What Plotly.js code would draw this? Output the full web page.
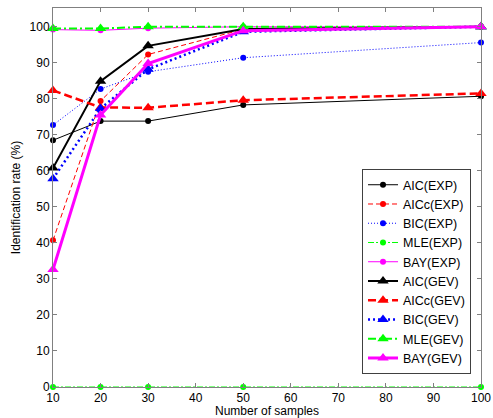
<!DOCTYPE html>
<html>
<head>
<meta charset="utf-8">
<script src="https://cdn.plot.ly/plotly-3.0.1.min.js"></script>
<style>html,body{margin:0;padding:0;background:#fff;}#chart{width:493px;height:418px;}</style>
</head>
<body>
<div id="chart"></div>
<script>
// Data
const samples = [10, 20, 30, 50, 100];
const seriesNames = ["AIC(EXP)", "AICc(EXP)", "BIC(EXP)", "MLE(EXP)", "BAY(EXP)",
                     "AIC(GEV)", "AICc(GEV)", "BIC(GEV)", "MLE(GEV)", "BAY(GEV)"];
const aicExp  = [68.5, 73.8, 73.8, 78.3, 80.7];
const aiccExp = [40.7, 79.4, 92.3, 99.3, 100];
const bicExp  = [72.7, 82.7, 87.5, 91.4, 95.6];
const mleExp  = [0, 0, 0, 0, 0];
const bayExp  = [99.2, 99.0, 99.6, 100, 100];
const aicGev  = [60.8, 84.9, 94.7, 99.4, 100];
const aiccGev = [82.3, 77.6, 77.5, 79.6, 81.5];
const bicGev  = [57.8, 77.3, 88.2, 98.6, 100];
const mleGev  = [99.5, 99.5, 100, 100, 100];
const bayGev  = [32.6, 75.5, 89.8, 98.9, 100];
const xTicks = [10, 20, 30, 40, 50, 60, 70, 80, 90, 100];
const yTicks = [0, 10, 20, 30, 40, 50, 60, 70, 80, 90, 100];

const values = [aicExp, aiccExp, bicExp, mleExp, bayExp, aicGev, aiccGev, bicGev, mleGev, bayGev];
const colors = ["#000000", "#ff0000", "#0000ff", "#00ff00", "#ff00ff",
                "#000000", "#ff0000", "#0000ff", "#00ff00", "#ff00ff"];
const dashes = ["solid", "5px,3px", "1px,2px", "6px,2px,2px,2px", "solid",
                "solid", "8px,4px", "2px,3px", "8px,3px,2px,3px", "solid"];
const widths = [1, 1, 1, 1, 1, 2, 2.5, 2.5, 2, 3];

const traces = values.map((v, i) => ({
  x: samples,
  y: v,
  name: seriesNames[i],
  type: "scatter",
  mode: "lines+markers",
  line: {color: colors[i], width: widths[i], dash: dashes[i]},
  marker: i < 5
    ? {symbol: "circle", size: 6, color: colors[i]}
    : {symbol: "triangle-up", size: 10, color: colors[i]},
  cliponaxis: false
}));

const fnt = "Arial, 'Liberation Sans', sans-serif";
const layout = {
  width: 493, height: 418,
  margin: {l: 53, r: 12, t: 8, b: 31},
  paper_bgcolor: "#ffffff",
  plot_bgcolor: "#ffffff",
  font: {family: fnt, size: 12, color: "#000"},
  showlegend: true,
  legend: {
    x: 0.722, y: 0.034, xanchor: "left", yanchor: "bottom",
    bgcolor: "#ffffff", bordercolor: "#404040", borderwidth: 1,
    font: {family: fnt, size: 12.5, color: "#000"}
  },
  xaxis: {
    range: [10, 100],
    tickvals: xTicks,
    ticks: "inside", ticklen: 4, tickcolor: "#808080",
    showline: true, linecolor: "#808080", linewidth: 1, mirror: "ticks",
    showgrid: false, zeroline: false,
    tickfont: {family: fnt, size: 12, color: "#000"},
    title: {text: "Number of samples", font: {family: fnt, size: 12, color: "#000"}, standoff: 1}
  },
  yaxis: {
    range: [0, 105.2],
    tickvals: yTicks,
    ticks: "inside", ticklen: 4, tickcolor: "#808080",
    showline: true, linecolor: "#808080", linewidth: 1, mirror: "ticks",
    showgrid: false, zeroline: false,
    tickfont: {family: fnt, size: 12, color: "#000"},
    title: {text: "Identification rate (%)", font: {family: fnt, size: 12, color: "#000"}, standoff: 6}
  }
};

Plotly.newPlot("chart", traces, layout, {displayModeBar: false, staticPlot: true});
</script>
</body>
</html>
